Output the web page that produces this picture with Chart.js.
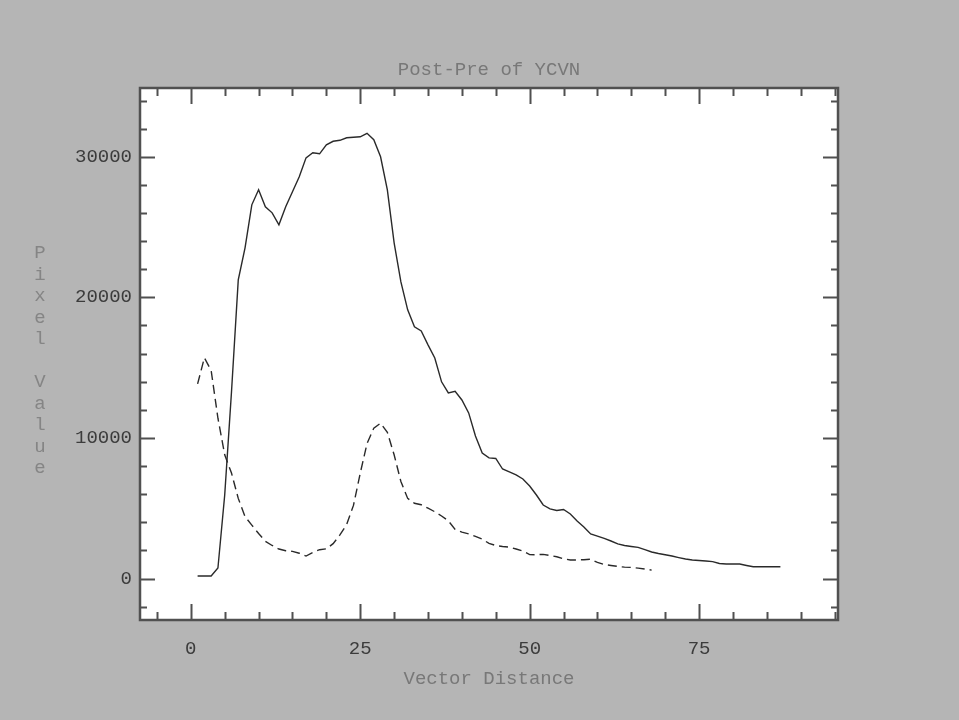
<!DOCTYPE html>
<html>
<head>
<meta charset="utf-8">
<title>Post-Pre of YCVN</title>
<script src="https://cdn.jsdelivr.net/npm/chart.js@4/dist/chart.umd.min.js"></script>
<style>
  html, body { margin: 0; padding: 0; background: #b5b5b5; }
  canvas { display: block; }
</style>
</head>
<body>
<canvas id="profileChart" width="959" height="720"></canvas>
<script>
// Vector distance (x) for each sample
const distance = [
    1, 2, 3, 4, 5, 6, 7, 8, 9, 10, 11, 12, 13, 14, 15, 16, 17, 18, 19, 20,
    21, 22, 23, 24, 25, 26, 27, 28, 29, 30, 31, 32, 33, 34, 35, 36, 37, 38, 39, 40,
    41, 42, 43, 44, 45, 46, 47, 48, 49, 50, 51, 52, 53, 54, 55, 56, 57, 58, 59, 60,
    61, 62, 63, 64, 65, 66, 67, 68, 69, 70, 71, 72, 73, 74, 75, 76, 77, 78, 79, 80,
    81, 82, 83, 84, 85, 86, 87
];

// solid profile
const postValues = [
    180, 180, 180, 750, 5940, 13270, 21240, 23520, 26580, 27650,
    26440, 26010, 25160, 26440, 27510, 28570, 29920, 30280, 30210, 30850,
    31100, 31170, 31350, 31390, 31420, 31670, 31210, 30000, 27650, 23880,
    21100, 19110, 17900, 17610, 16620, 15690, 13990, 13200, 13310, 12700,
    11780, 10140, 8930, 8580, 8540, 7790, 7580, 7370, 7080, 6580,
    5940, 5230, 4950, 4840, 4910, 4590, 4090, 3670, 3170, 3020,
    2850, 2670, 2460, 2350, 2280, 2220, 2060, 1890, 1780, 1690,
    1600, 1490, 1390, 1320, 1280, 1250, 1200, 1070, 1030, 1030,
    1030, 930, 840, 840, 840, 840, 840
];

// dashed profile
const preValues = [
    13840, 15700, 14800, 11400, 8800, 7500, 5700, 4400, 3800, 3200,
    2650, 2350, 2100, 1980, 1930, 1800, 1600, 1850, 2050, 2110,
    2480, 3100, 3850, 5200, 7490, 9600, 10700, 11050, 10400, 8800,
    6900, 5700, 5350, 5250, 5000, 4750, 4450, 4100, 3500, 3300,
    3180, 3000, 2800, 2500, 2350, 2280, 2230, 2100, 1950, 1700,
    1690, 1720, 1640, 1550, 1400, 1320, 1320, 1340, 1370, 1150,
    1000, 930, 860, 810, 790, 740, 680, 600
];

const xTickLabels = [0, 25, 50, 75];
const yTickLabels = [0, 10000, 20000, 30000];

const titleText = 'Post-Pre of YCVN';
const xTitle = 'Vector Distance';
const yTitle = 'Pixel Value';

const FONT = '"Liberation Mono", "DejaVu Sans Mono", monospace';

// gray page, white plot box, IDL-style frame with inward ticks, title and stacked y label
const idlFrame = {
    id: 'idlFrame',
    beforeDraw(chart) {
        const { ctx, chartArea: a } = chart;
        ctx.save();
        ctx.fillStyle = '#b5b5b5';
        ctx.fillRect(0, 0, chart.width, chart.height);
        ctx.fillStyle = '#ffffff';
        ctx.fillRect(a.left, a.top, a.right - a.left, a.bottom - a.top);
        ctx.restore();
    },
    afterDraw(chart) {
        const { ctx, chartArea: a, scales: { x, y } } = chart;
        ctx.save();
        ctx.strokeStyle = '#505050';
        ctx.lineWidth = 2;
        ctx.beginPath();
        for (let v = -5; v <= 95; v += 5) {
            const px = Math.round(x.getPixelForValue(v)) + 0.5;
            if (px <= a.left + 1 || px >= a.right - 1) continue;
            const len = v % 25 === 0 ? 16 : 8;
            ctx.moveTo(px, a.bottom); ctx.lineTo(px, a.bottom - len);
            ctx.moveTo(px, a.top); ctx.lineTo(px, a.top + len);
        }
        for (let v = -2000; v <= 34000; v += 2000) {
            const py = Math.round(y.getPixelForValue(v)) + 0.5;
            if (py <= a.top + 1 || py >= a.bottom - 1) continue;
            const len = v % 10000 === 0 ? 15 : 7;
            ctx.moveTo(a.left, py); ctx.lineTo(a.left + len, py);
            ctx.moveTo(a.right, py); ctx.lineTo(a.right - len, py);
        }
        ctx.stroke();
        ctx.lineWidth = 2.5;
        ctx.strokeRect(a.left, a.top, a.right - a.left, a.bottom - a.top);

        // title
        ctx.fillStyle = '#787878';
        ctx.font = '19px ' + FONT;
        ctx.textAlign = 'center';
        ctx.textBaseline = 'middle';
        ctx.fillText(titleText, (a.left + a.right) / 2, 70);

        // y title, one letter per row
        ctx.fillStyle = '#858585';
        const letters = yTitle.split('');
        letters.forEach((ch, i) => {
            ctx.fillText(ch, 40, 253 + i * 21.5);
        });
        ctx.restore();
    }
};

new Chart(document.getElementById('profileChart'), {
    type: 'line',
    data: {
        datasets: [
            {
                label: 'Post',
                data: postValues.map((v, i) => ({ x: distance[i], y: v })),
                borderColor: '#2a2a2a',
                borderWidth: 1.4,
                pointRadius: 0,
                tension: 0,
                fill: false
            },
            {
                label: 'Pre',
                data: preValues.map((v, i) => ({ x: distance[i], y: v })),
                borderColor: '#2a2a2a',
                borderWidth: 1.4,
                borderDash: [9, 5],
                pointRadius: 0,
                tension: 0,
                fill: false
            }
        ]
    },
    options: {
        responsive: false,
        animation: false,
        devicePixelRatio: 1,
        layout: { padding: { top: 88, right: 121, bottom: 0, left: 0 } },
        plugins: {
            legend: { display: false },
            tooltip: { enabled: false }
        },
        scales: {
            x: {
                type: 'linear',
                min: -7.5,
                max: 95.5,
                afterFit(scale) { scale.height = 100; },
                afterBuildTicks(scale) { scale.ticks = xTickLabels.map(v => ({ value: v })); },
                grid: { display: false, drawTicks: false },
                border: { display: false },
                ticks: {
                    autoSkip: false,
                    maxRotation: 0,
                    padding: 18,
                    color: '#3c3c3c',
                    font: { family: FONT, size: 19, lineHeight: 1.2 },
                    callback: v => String(v)
                },
                title: {
                    display: true,
                    text: xTitle,
                    color: '#787878',
                    padding: { top: 0, bottom: 30 },
                    font: { family: FONT, size: 19, lineHeight: 1.2 }
                }
            },
            y: {
                type: 'linear',
                min: -2950,
                max: 34890,
                afterFit(scale) { scale.width = 140; },
                afterBuildTicks(scale) { scale.ticks = yTickLabels.map(v => ({ value: v })); },
                grid: { display: false, drawTicks: false },
                border: { display: false },
                ticks: {
                    autoSkip: false,
                    padding: 8,
                    color: '#3c3c3c',
                    font: { family: FONT, size: 19, lineHeight: 1.2 },
                    callback: v => String(v)
                }
            }
        }
    },
    plugins: [idlFrame]
});
</script>
</body>
</html>
